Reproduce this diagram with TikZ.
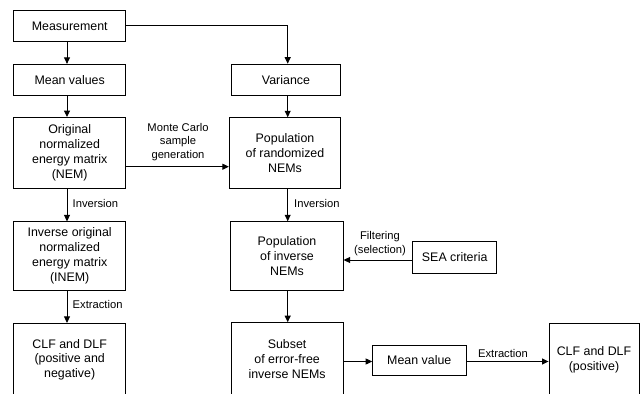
\documentclass[tikz,border=0pt]{standalone}
\usepackage{fontspec}
\setmainfont{Liberation Sans}
\usetikzlibrary{arrows.meta}
\begin{document}
\begin{tikzpicture}[x=1pt,y=-1pt,
  box/.style={draw,line width=0.9pt,inner sep=0pt,align=center,
    font=\fontsize{12.4}{14.9}\selectfont},
  lbl/.style={inner sep=0pt,align=center,font=\fontsize{11.2}{13.8}\selectfont},
  arr/.style={line width=0.9pt,-{Triangle[length=6.5pt,width=6pt]}}]
\clip (0,0) rectangle (641,394);
\fill[white] (0,0) rectangle (641,394);
\coordinate (cl) at (67,0);
\coordinate (cr) at (287.7,0);
% left column
\node[box,minimum width=111.7,minimum height=31.7] (meas) at (69.7,25.8) {Measurement};
\node[box,minimum width=111.7,minimum height=31.4] (mean) at (69.7,80) {Mean values};
\node[box,minimum width=111.7,minimum height=71] (nem) at (69.7,153) {Original\\normalized\\energy matrix\\(NEM)};
\node[box,minimum width=111.7,minimum height=68.3] (inem) at (69.7,256) {Inverse original\\normalized\\energy matrix\\(INEM)};
\node[box,minimum width=111.7,minimum height=72.7] (clfa) at (69.7,359.7) {CLF and DLF\\(positive and\\negative)};
% right column
\node[box,minimum width=109.7,minimum height=31.7] (var) at (286,80) {Variance};
\node[box,minimum width=111.4,minimum height=70.6] (rand) at (285,153) {Population\\of randomized\\NEMs};
\node[box,minimum width=112.3,minimum height=69] (pinv) at (287,256.2) {Population\\of inverse\\NEMs};
\node[box,minimum width=84,minimum height=31.6] (sea) at (454.7,257.5) {SEA criteria};
\node[box,minimum width=112.3,minimum height=73.3] (sub) at (287.1,359.3) {Subset\\of error-free\\inverse NEMs};
\node[box,minimum width=93.3,minimum height=30] (mv) at (419.3,360) {Mean value};
\node[box,minimum width=90,minimum height=72.7] (clfb) at (594,359.7) {CLF and DLF\\(positive)};
% connectors
\draw[arr] (meas.south -| cl) -- (mean.north -| cl);
\draw[arr] (mean.south -| cl) -- (nem.north -| cl);
\draw[arr] (nem.south -| cl) -- (inem.north -| cl);
\draw[arr] (inem.south -| cl) -- (clfa.north -| cl);
\draw[arr] (meas.east |- 0,25) -| (var.north -| cr);
\draw[arr] (var.south -| cr) -- (rand.north -| cr);
\draw[arr] (rand.south -| cr) -- (pinv.north -| cr);
\draw[arr] (pinv.south -| cr) -- (sub.north -| cr);
\draw[arr] (nem.east |- 0,166.7) -- (rand.west |- 0,166.7);
\draw[arr] (sea.west |- 0,260) -- (pinv.east |- 0,260);
\draw[arr] (sub.east |- 0,361.5) -- (mv.west |- 0,361.5);
\draw[arr] (mv.east |- 0,361.5) -- (clfb.west |- 0,361.5);
% labels
\node[lbl,anchor=west] (l1) at (72.5,203) {Inversion};
\node[lbl,anchor=west] (l2) at (72.5,304) {Extraction};
\node[lbl,anchor=west] (l3) at (294,203) {Inversion};
\node[lbl] (l4) at (178,142) {Monte Carlo\\sample\\generation};
\node[lbl] (l5) at (380,243.5) {Filtering\\(selection)};
\node[lbl] (l6) at (503,353) {Extraction};
\end{tikzpicture}
\end{document}
